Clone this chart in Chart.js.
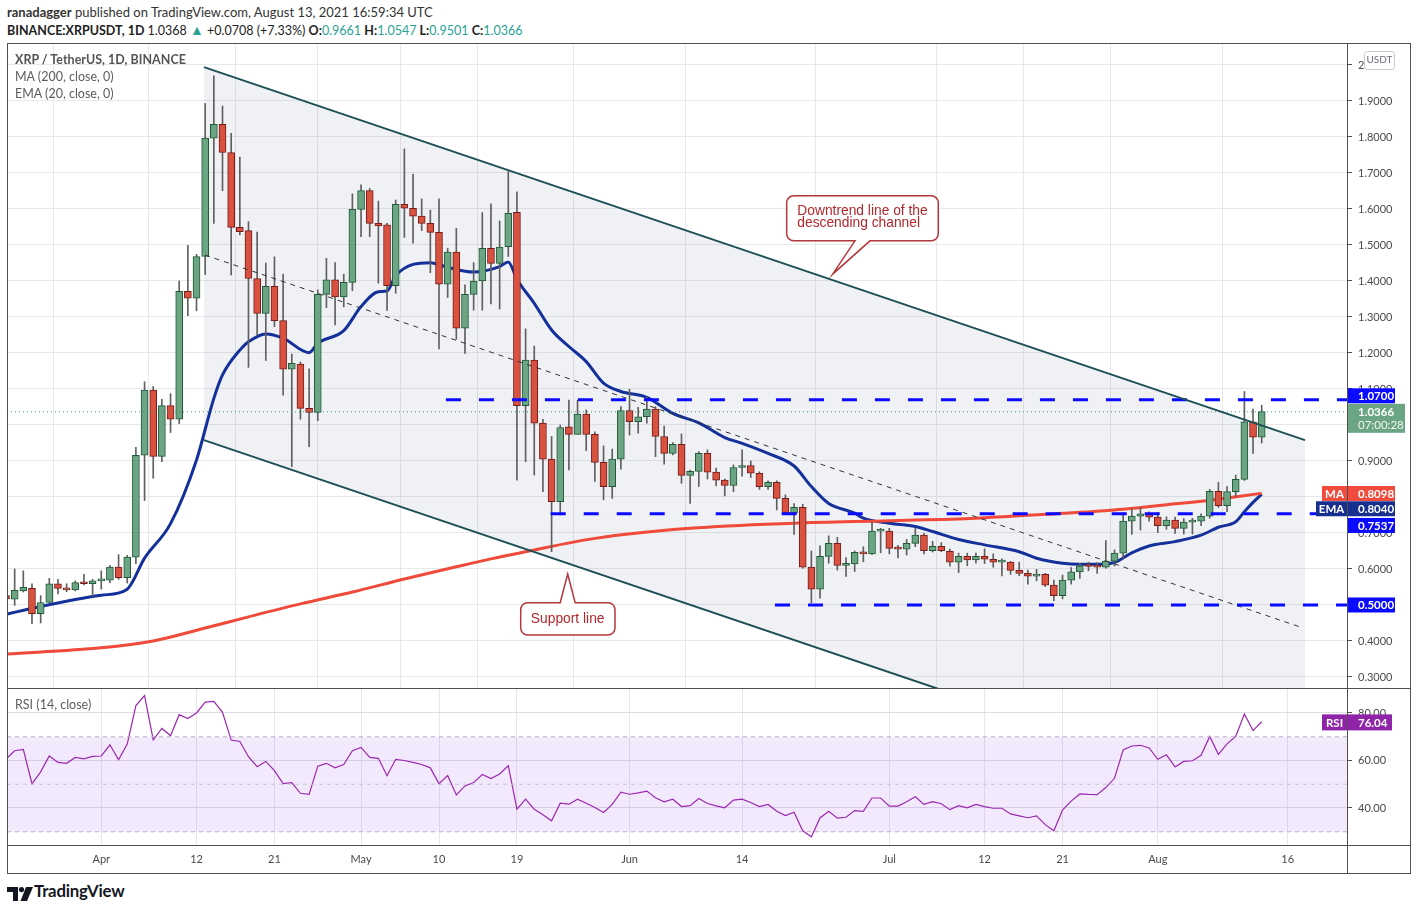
<!DOCTYPE html>
<html><head><meta charset="utf-8"><title>XRP / TetherUS</title>
<script src="https://cdn.jsdelivr.net/npm/chart.js@4.4.1/dist/chart.umd.min.js"></script>
<style>
html,body{margin:0;padding:0;background:#fff;}
body{width:1417px;height:911px;position:relative;overflow:hidden;font-family:Lato,"Open Sans",sans-serif;color:#131722;}
.abs{position:absolute;white-space:nowrap;}
.hl{position:absolute;height:1px;background:#505050;z-index:5}
.vl{position:absolute;width:1px;background:#505050;z-index:5}
.v{color:#2aa394}
.leg{font-size:12.5px;color:#5d5d5d;z-index:6}
</style></head><body>
<div class="abs" style="left:7px;top:4px;font-size:13px;color:#333"><b>ranadagger</b> published on TradingView.com, August 13, 2021 16:59:34 UTC</div>
<div class="abs" style="left:7px;top:21px;font-size:12.5px;color:#222"><b>BINANCE:XRPUSDT, 1D</b> 1.0368 <span class="v" style="font-size:14px">▲</span> +0.0708 (+7.33%) <b>O:</b><span class="v">0.9661</span> <b>H:</b><span class="v">1.0547</span> <b>L:</b><span class="v">0.9501</span> <b>C:</b><span class="v">1.0366</span></div>

<div id="mainWrap" class="abs" style="left:7px;top:44px;width:1403px;height:644px"><canvas id="mainChart"></canvas></div>
<div id="rsiWrap" class="abs" style="left:7px;top:689px;width:1403px;height:184px"><canvas id="rsiChart"></canvas></div>

<div class="abs leg" style="left:15px;top:52px;font-weight:700;color:#555">XRP / TetherUS, 1D, BINANCE</div>
<div class="abs leg" style="left:15px;top:69px">MA (200, close, 0)</div>
<div class="abs leg" style="left:15px;top:86px">EMA (20, close, 0)</div>
<div class="abs leg" style="left:15px;top:697px">RSI (14, close)</div>

<div class="hl" style="left:7px;top:43px;width:1404px"></div>
<div class="hl" style="left:7px;top:688px;width:1404px"></div>
<div class="hl" style="left:7px;top:845px;width:1404px"></div>
<div class="hl" style="left:7px;top:873px;width:1404px"></div>
<div class="vl" style="left:7px;top:43px;height:831px"></div>
<div class="vl" style="left:1347px;top:43px;height:831px"></div>
<div class="vl" style="left:1410px;top:43px;height:831px"></div>

<div class="abs" style="left:7px;top:885px;"><svg width="26" height="14" viewBox="0 0 26 14"><path d="M0 0h11v14H6V5H0z" fill="#131722"/><circle cx="14.5" cy="2.6" r="2.6" fill="#131722"/><path d="M19 0h7l-6 14h-6.5z" fill="#131722"/></svg></div>
<div class="abs" style="left:34px;top:880px;font-size:16.8px;font-weight:700;color:#131722;letter-spacing:-0.2px">TradingView</div>

<script>
// ---------- DATA ----------
const dayTickIdx   = [11, 22, 31, 41, 50, 59, 72, 85, 102, 113, 122, 133, 148];
const dayTickLabel = ['Apr','12','21','May','10','19','Jun','14','Jul','12','21','Aug','16'];
const priceTicks = [0.3,0.4,0.5,0.6,0.7,0.8,0.9,1.0,1.1,1.2,1.3,1.4,1.5,1.6,1.7,1.8,1.9,2.0];
const rsiTicks = [40, 60, 80];

const opens = [
 .526,.516,.539,.546,.476,.507,.559,.546,.542,.562,
 .559,.567,.569,.605,.576,.633,.916,1.097,.913,1.054,
 1.016,1.371,1.352,1.468,1.797,1.835,1.757,1.549,1.540,1.407,
 1.310,1.385,1.290,1.155,1.169,1.046,1.035,1.363,1.403,1.356,
 1.396,1.599,1.651,1.560,1.556,1.387,1.613,1.602,1.580,1.560,
 1.535,1.391,1.480,1.269,1.363,1.400,1.491,1.449,1.495,1.591,
 1.054,1.180,1.005,.905,.787,.995,.974,1.030,.974,.896,
 .829,.905,1.040,1.009,1.023,1.044,.968,.921,.946,.860,
 .871,.921,.869,.847,.832,.882,.887,.866,.829,.841,
 .796,.756,.771,.605,.544,.635,.671,.610,.614,.646,
 .642,.705,.705,.657,.655,.671,.694,.651,.663,.649,
 .619,.635,.625,.635,.627,.619,.619,.596,.588,.580,
 .585,.555,.526,.569,.592,.609,.608,.605,.622,.644,
 .733,.747,.753,.744,.720,.736,.713,.730,.733,.747,
 .816,.776,.815,.849,1.009,.966];
const highs = [
 .530,.600,.595,.559,.526,.574,.571,.559,.567,.585,
 .571,.595,.610,.640,.638,.938,1.120,1.107,1.071,1.087,
 1.400,1.499,1.474,1.893,1.970,1.886,1.810,1.744,1.565,1.536,
 1.450,1.467,1.419,1.197,1.175,1.156,1.375,1.463,1.451,1.419,
 1.642,1.667,1.657,1.622,1.560,1.625,1.767,1.697,1.628,1.597,
 1.628,1.491,1.546,1.389,1.451,1.590,1.614,1.567,1.704,1.648,
 1.267,1.219,1.016,.968,1.000,1.069,1.069,1.042,.981,.942,
 .933,1.051,1.099,1.049,1.079,1.051,.997,.951,.975,.875,
 .926,.931,.880,.850,.889,.931,.900,.870,.845,.845,
 .806,.782,.780,.650,.664,.692,.688,.632,.650,.662,
 .731,.713,.713,.666,.682,.713,.699,.677,.673,.655,
 .644,.644,.644,.656,.642,.628,.621,.619,.597,.599,
 .588,.569,.583,.604,.616,.619,.618,.679,.653,.756,
 .767,.770,.759,.757,.745,.744,.740,.741,.753,.821,
 .841,.829,.861,1.093,1.044,1.055];
const lows = [
 .512,.499,.536,.448,.450,.507,.531,.537,.539,.556,
 .524,.544,.562,.571,.561,.615,.790,.852,.898,.979,
 1.004,1.304,1.317,1.418,1.560,1.651,1.417,1.528,1.160,1.250,
 1.179,1.273,1.083,.884,1.016,.940,1.012,1.326,1.278,1.328,
 1.373,1.523,1.523,1.394,1.318,1.366,1.521,1.505,1.540,1.423,
 1.211,1.354,1.238,1.199,1.319,1.319,1.336,1.322,1.468,.847,
 .898,.861,.815,.648,.750,.875,.974,.929,.843,.792,
 .796,.877,.972,.977,1.005,.912,.891,.917,.838,.782,
 .829,.850,.831,.803,.815,.858,.854,.821,.821,.764,
 .752,.696,.602,.506,.519,.616,.597,.579,.593,.620,
 .640,.645,.642,.631,.639,.662,.642,.647,.648,.608,
 .590,.609,.616,.615,.605,.581,.585,.581,.558,.567,
 .551,.512,.517,.558,.574,.595,.588,.602,.608,.630,
 .696,.708,.733,.701,.710,.699,.697,.697,.720,.741,
 .771,.759,.801,.846,.921,.950];
const closes = [
 .517,.541,.549,.476,.507,.559,.546,.542,.562,.559,
 .567,.569,.605,.576,.633,.916,1.097,.913,1.054,1.016,
 1.371,1.352,1.468,1.797,1.835,1.757,1.549,1.537,1.407,1.310,
 1.385,1.290,1.155,1.171,1.046,1.035,1.363,1.403,1.356,1.396,
 1.599,1.651,1.560,1.553,1.387,1.613,1.602,1.580,1.560,1.535,
 1.391,1.480,1.269,1.363,1.400,1.491,1.449,1.494,1.588,1.054,
 1.180,1.005,.905,.787,.993,.974,1.030,.974,.896,.829,
 .905,1.040,1.009,1.023,1.044,.968,.921,.946,.860,.871,
 .921,.869,.847,.832,.882,.887,.866,.829,.841,.796,
 .755,.771,.605,.544,.635,.671,.610,.614,.646,.642,
 .705,.706,.657,.655,.671,.694,.651,.663,.651,.619,
 .635,.625,.635,.627,.619,.620,.596,.588,.580,.585,
 .555,.526,.569,.592,.609,.607,.605,.622,.644,.733,
 .747,.753,.744,.720,.736,.713,.730,.733,.747,.816,
 .776,.815,.849,1.009,.966,1.037];

const maIdx = [0,11,17,23,28,34,40,46,52,56,60,68,79,91,102,112,120,128,135,140,145];
const maVal = [0.364,0.381,0.400,0.436,0.467,0.503,0.536,0.572,0.606,0.628,0.648,0.685,0.713,0.727,0.734,0.741,0.752,0.764,0.781,0.794,0.810];

const emaIdx = [0,4,11,14,16,19,22,24,25,27,28,30,32,35,36,39,41,43,44,45,49,51,54,57,58,59,61,63,65,67,69,71,74,77,80,83,85,88,91,93,95,98,99,102,105,107,110,113,117,119,122,124,126,128,130,132,135,138,140,142,143,144,145];
const emaVal = [0.474,0.496,0.527,0.544,0.630,0.726,0.903,1.074,1.139,1.208,1.231,1.253,1.241,1.201,1.227,1.262,1.329,1.370,1.372,1.415,1.451,1.438,1.425,1.440,1.453,1.405,1.338,1.264,1.218,1.176,1.116,1.093,1.077,1.032,1.006,0.965,0.949,0.921,0.886,0.829,0.782,0.755,0.741,0.727,0.718,0.704,0.682,0.667,0.648,0.630,0.616,0.613,0.613,0.618,0.645,0.664,0.676,0.694,0.716,0.731,0.759,0.785,0.808];

const rsi = [
 60.6,64.1,64.7,50.2,55.2,61.9,59.2,58.8,61.3,60.7,
 61.7,61.9,66.6,60.3,66.9,83.1,87.3,68.7,73.5,70.4,
 79.3,77.7,80.0,84.6,84.9,80.3,68.6,68.0,61.6,57.4,
 59.6,55.7,50.3,50.7,46.2,45.7,57.6,58.8,56.9,58.3,
 64.1,65.5,61.3,60.9,53.6,60.5,60.0,59.2,58.3,56.9,
 50.2,53.7,45.5,49.3,50.7,54.1,52.4,54.3,57.8,39.5,
 43.7,39.5,37.2,34.6,42.0,41.6,43.7,42.0,40.2,38.1,
 41.5,46.7,45.8,46.4,47.1,44.3,42.6,43.7,40.6,41.0,
 44.0,41.9,40.9,40.1,43.3,43.7,42.3,40.6,41.5,38.6,
 36.8,38.2,30.4,27.9,35.8,38.6,35.7,36.1,38.9,38.6,
 44.2,44.2,40.8,40.8,42.6,44.7,41.5,42.7,41.8,39.3,
 41.0,40.1,41.5,40.6,39.9,39.9,37.5,36.7,35.9,36.7,
 33.0,30.4,39.1,42.9,45.9,45.7,45.6,48.6,52.5,64.4,
 66.1,66.4,65.3,60.5,62.4,57.3,59.6,59.9,62.2,70.1,
 62.6,67.0,70.1,79.6,72.6,76.3];

// drawing annotations, in (day index, price) data space
const channelUpper = [{x:22.86, y:1.994}, {x:150.0, y:0.958}];
const channelLower = [{x:22.86, y:0.958}, {x:150.0, y:-0.078}];
const channelMid   = [{x:22.98, y:1.472}, {x:149.8, y:0.436}];
const levelPrices = [1.07, 0.7537, 0.50];
const levelStarts = [50.8, 62.9, 88.8];
const lastPrice = 1.0366;
const maLast = 0.8098, emaLast = 0.8040, rsiLast = 76.04;
const trendTip = {x:95.46, y:1.419};
const supportTip = {x:64.86, y:0.586};

// ---------- CHART ----------
const X_MIN = 0.115, X_MAX = 154.85;
const Y_MIN = 0.2694, Y_MAX = 2.0583;
const R_MIN = 24.42, R_MAX = 90.1;
const AXIS_W = 63;
const GRID = '#e8e8ea', AXC = '#505050', TXT = '#4a4a4a';
const GREEN = '#6ba583', GREEN_B = '#1f5a38', RED = '#d9523f', RED_B = '#741b1b';
const BLUE = '#0a0aff';

Chart.defaults.font.family = 'Lato, "Open Sans", sans-serif';
Chart.defaults.animation = false;

function xScale(showLabels){
  return {
    type:'linear', min:X_MIN, max:X_MAX, offset:false,
    afterBuildTicks: s => { s.ticks = dayTickIdx.map(v => ({value:v})); },
    ticks:{display:showLabels, autoSkip:false, maxRotation:0, padding:8, color:TXT, font:{size:11},
      callback:(v)=>{ const k = dayTickIdx.indexOf(v); return k>=0 ? dayTickLabel[k] : ''; }},
    grid:{color:GRID, drawTicks:false},
    border:{display:false},
    afterFit: s => { s.height = showLabels ? 28 : 0; s.paddingLeft = 0; s.paddingRight = 0; }
  };
}
function yFit(s){ s.width = AXIS_W; s.paddingTop = 0; s.paddingBottom = 0; }

function isUp(i){ return closes[i] >= opens[i]; }

const wickData = opens.map((_, i) => ({x:i, y:[lows[i], highs[i]]}));
const bodyData = opens.map((o, i) => ({x:i, y:[Math.min(o, closes[i]), Math.max(o, closes[i])]}));

function rr(ctx, x, y, w, h, r){
  ctx.beginPath(); ctx.moveTo(x+r,y); ctx.lineTo(x+w-r,y); ctx.arcTo(x+w,y,x+w,y+r,r);
  ctx.lineTo(x+w,y+h-r); ctx.arcTo(x+w,y+h,x+w-r,y+h,r); ctx.lineTo(x+r,y+h);
  ctx.arcTo(x,y+h,x,y+h-r,r); ctx.lineTo(x,y+r); ctx.arcTo(x,y,x+r,y,r); ctx.closePath();
}
function tag(ctx, x, yc, w, h, bg, text, tx, align, font){
  ctx.fillStyle = bg; ctx.fillRect(x, yc - h/2, w, h);
  ctx.fillStyle = '#fff'; ctx.font = font || 'bold 11.5px Lato'; ctx.textAlign = align || 'left';
  ctx.textBaseline = 'middle'; ctx.fillText(text, tx, yc + 0.5);
}
function callout(ctx, l, t, r, b, side, b1, b2, tx, ty){
  const rad = 7;
  ctx.beginPath(); ctx.moveTo(l+rad, t);
  if (side === 'top'){ ctx.lineTo(b1, t); ctx.lineTo(tx, ty); ctx.lineTo(b2, t); }
  ctx.lineTo(r-rad, t); ctx.arcTo(r, t, r, t+rad, rad);
  ctx.lineTo(r, b-rad); ctx.arcTo(r, b, r-rad, b, rad);
  if (side === 'bottom'){ ctx.lineTo(b2, b); ctx.lineTo(tx, ty); ctx.lineTo(b1, b); }
  ctx.lineTo(l+rad, b); ctx.arcTo(l, b, l, b-rad, rad);
  ctx.lineTo(l, t+rad); ctx.arcTo(l, t, l+rad, t, rad);
  ctx.closePath();
  ctx.fillStyle = '#fff'; ctx.fill();
  ctx.lineWidth = 1.5; ctx.strokeStyle = '#b3373b'; ctx.stroke();
}

const mainOverlay = {
  id:'mainOverlay',
  afterDraw(chart){
    const {ctx, chartArea:a, scales:{x, y}} = chart;
    ctx.save();
    // callout: downtrend line
    let tx = x.getPixelForValue(trendTip.x), ty = y.getPixelForValue(trendTip.y);
    callout(ctx, tx-46, ty-78.3, tx+105.6, ty-33.3, 'bottom', tx+22.3, tx+37.3, tx, ty);
    ctx.fillStyle = '#b3282d'; ctx.font = '13.8px "Liberation Sans", Arial, sans-serif';
    ctx.textAlign = 'left'; ctx.textBaseline = 'middle';
    ctx.fillText('Downtrend line of the', tx-35.4, ty-62.8);
    ctx.fillText('descending channel', tx-35.4, ty-51);
    // callout: support line
    tx = x.getPixelForValue(supportTip.x); ty = y.getPixelForValue(supportTip.y);
    callout(ctx, tx-47, ty+28.7, tx+47.3, ty+61, 'top', tx-7.5, tx+7.5, tx, ty);
    ctx.fillStyle = '#b3282d'; ctx.textAlign = 'center';
    ctx.fillText('Support line', tx, ty+45);

    // right axis value labels
    const L = a.right + 1, TX = a.right + 11;
    tag(ctx, L, y.getPixelForValue(1.07) - 4, 47, 15, BLUE, '1.0700', TX);
    const lp = y.getPixelForValue(lastPrice);
    ctx.fillStyle = GREEN; ctx.fillRect(L, lp - 8, 57, 29);
    ctx.fillStyle = '#fff'; ctx.font = 'bold 11.5px Lato'; ctx.textAlign = 'left'; ctx.textBaseline = 'middle';
    ctx.fillText('1.0366', TX, lp + 0.5);
    ctx.font = '11.5px Lato'; ctx.fillStyle = '#f2f7f4'; ctx.fillText('07:00:28', TX, lp + 13.5);
    const maY = y.getPixelForValue(maLast), emaY = maY + 15.3, supY = emaY + 16.7;
    tag(ctx, L, maY, 47, 15, '#f04b3c', '0.8098', TX);
    tag(ctx, a.right - 25, maY, 25, 15, '#f04b3c', 'MA', a.right - 12.5, 'center');
    tag(ctx, L, emaY, 47, 15, '#17308f', '0.8040', TX);
    tag(ctx, a.right - 31, emaY, 31, 15, '#17308f', 'EMA', a.right - 15.5, 'center');
    tag(ctx, L, supY, 47, 15, BLUE, '0.7537', TX);
    tag(ctx, L, y.getPixelForValue(0.5), 47, 15, BLUE, '0.5000', TX);
    // currency badge
    rr(ctx, a.right + 17.5, 7.5, 30, 18, 3);
    ctx.fillStyle = '#fff'; ctx.fill(); ctx.strokeStyle = '#c8c8cc'; ctx.lineWidth = 1; ctx.stroke();
    ctx.fillStyle = '#6a6d78'; ctx.font = '10px Lato'; ctx.textAlign = 'center'; ctx.textBaseline = 'middle';
    ctx.fillText('USDT', a.right + 32.5, 15.5);
    ctx.restore();
  }
};

new Chart(document.getElementById('mainChart'), {
  type:'bar',
  data:{ datasets:[
    { type:'line', data:channelUpper, borderColor:'#1c4f56', borderWidth:2, pointRadius:0,
      fill:1, backgroundColor:'rgba(110,120,145,0.10)', order:0 },
    { type:'line', data:channelLower, borderColor:'#1c4f56', borderWidth:2, pointRadius:0, fill:false, order:0 },
    { type:'line', data:maIdx.map((v,k)=>({x:v, y:maVal[k]})), borderColor:'#ef4a3a', borderWidth:3,
      pointRadius:0, cubicInterpolationMode:'monotone', fill:false, order:5 },
    { type:'line', data:emaIdx.map((v,k)=>({x:v, y:emaVal[k]})), borderColor:'#14309a', borderWidth:3,
      pointRadius:0, cubicInterpolationMode:'monotone', fill:false, order:5 },
    { type:'bar', data:wickData, backgroundColor:'#606060', barThickness:1, grouped:false, order:3 },
    { type:'bar', data:bodyData, grouped:false, order:2, barThickness:7, minBarLength:2,
      borderWidth:1, borderSkipped:false,
      backgroundColor: c => isUp(c.dataIndex) ? GREEN : RED,
      borderColor: c => isUp(c.dataIndex) ? GREEN_B : RED_B },
    { type:'line', data:channelMid, borderColor:'#333', borderWidth:1, borderDash:[5,5], pointRadius:0, fill:false, order:1 },
    ...levelPrices.map((p,k)=>({ type:'line', data:[{x:levelStarts[k], y:p},{x:X_MAX+5, y:p}],
      borderColor:BLUE, borderWidth:3, borderDash:[15,18], pointRadius:0, fill:false, order:0 })),
    { type:'line', data:[{x:X_MIN, y:lastPrice},{x:X_MAX, y:lastPrice}], borderColor:'#3f9c74',
      borderWidth:1, borderDash:[1,3], pointRadius:0, fill:false, order:1 }
  ]},
  options:{
    responsive:true, maintainAspectRatio:false, animation:false,
    layout:{padding:0},
    plugins:{ legend:{display:false}, tooltip:{enabled:false}, filler:{drawTime:'beforeDatasetsDraw'} },
    scales:{
      x: xScale(false),
      y: { position:'right', min:Y_MIN, max:Y_MAX,
        afterBuildTicks: s => { s.ticks = priceTicks.map(v => ({value:v})); },
        ticks:{ color:TXT, font:{size:11}, padding:6, callback:v => Number(v).toFixed(4) },
        grid:{ color:GRID, tickColor:AXC, tickLength:5 },
        border:{ display:true, color:AXC },
        afterFit: yFit }
    }
  },
  plugins:[mainOverlay]
});

const rsiOverlay = {
  id:'rsiOverlay',
  afterDraw(chart){
    const {ctx, chartArea:a, scales:{y}} = chart;
    ctx.save();
    const yc = y.getPixelForValue(rsiLast);
    tag(ctx, a.right - 25, yc, 25, 16, '#8f24a8', 'RSI', a.right - 12.5, 'center');
    tag(ctx, a.right + 1, yc, 44, 16, '#8f24a8', rsiLast.toFixed(2), a.right + 11);
    ctx.restore();
  }
};

new Chart(document.getElementById('rsiChart'), {
  type:'line',
  data:{ datasets:[
    { data:[{x:X_MIN, y:70},{x:X_MAX, y:70}], borderColor:'#b5b5bb', borderWidth:1, borderDash:[4,4],
      pointRadius:0, fill:1, backgroundColor:'rgba(150,70,240,0.12)' },
    { data:[{x:X_MIN, y:30},{x:X_MAX, y:30}], borderColor:'#b5b5bb', borderWidth:1, borderDash:[4,4], pointRadius:0, fill:false },
    { data:[{x:X_MIN, y:50},{x:X_MAX, y:50}], borderColor:'#c4c4ca', borderWidth:1, borderDash:[4,4], pointRadius:0, fill:false },
    { data:rsi.map((v,i)=>({x:i, y:v})), borderColor:'#9c27b0', borderWidth:1.2, pointRadius:0, fill:false, tension:0 }
  ]},
  options:{
    responsive:true, maintainAspectRatio:false, animation:false,
    layout:{padding:0},
    plugins:{ legend:{display:false}, tooltip:{enabled:false}, filler:{drawTime:'beforeDatasetsDraw'} },
    scales:{
      x: xScale(true),
      y: { position:'right', min:R_MIN, max:R_MAX,
        afterBuildTicks: s => { s.ticks = rsiTicks.map(v => ({value:v})); },
        ticks:{ color:TXT, font:{size:11}, padding:6, callback:v => Number(v).toFixed(2) },
        grid:{ color:'#e0dce6', tickColor:AXC, tickLength:5 },
        border:{ display:true, color:AXC },
        afterFit: yFit }
    }
  },
  plugins:[rsiOverlay]
});
</script>
</body></html>
